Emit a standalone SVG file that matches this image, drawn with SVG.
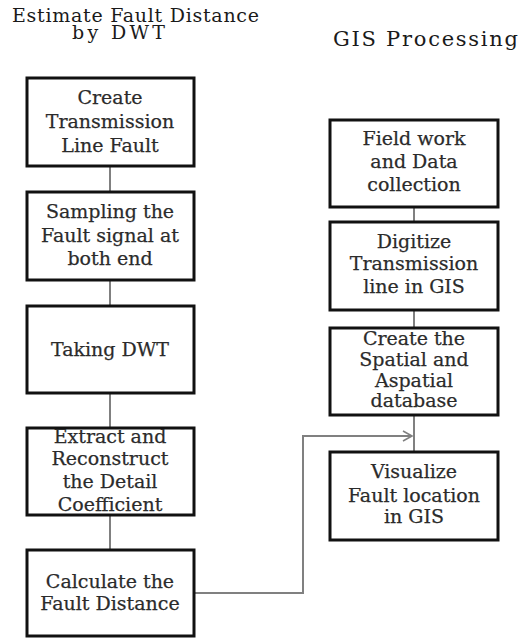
<svg xmlns="http://www.w3.org/2000/svg" width="521" height="638" viewBox="0 0 521 638">
<style>
.title{font-family:"DejaVu Serif","Liberation Serif",serif;fill:#1a1a1a;}
.box rect{fill:#fff;stroke:#111;stroke-width:3;}
.box text{font-family:"DejaVu Serif","Liberation Serif",serif;font-size:19px;fill:#2b2b2b;text-anchor:middle;stroke:#2b2b2b;stroke-width:0.25;}
.conn{fill:none;stroke:#808080;stroke-width:2;}
</style>
<defs>
<marker id="arr" markerWidth="12" markerHeight="12" refX="10" refY="6" orient="auto" markerUnits="userSpaceOnUse">
<path d="M1,1 L10,6 L1,11" fill="none" stroke="#808080" stroke-width="1.6"/>
</marker>
</defs>
<rect width="521" height="638" fill="#fff"/>
<text class="title" x="12" y="22" font-size="19" textLength="247" lengthAdjust="spacing">Estimate Fault Distance</text>
<text class="title" x="72" y="39" font-size="19" textLength="93" lengthAdjust="spacing">by DWT</text>
<text class="title" x="333" y="46" font-size="21" textLength="185" lengthAdjust="spacing">GIS Processing</text>
<g id="connectors">
<line class="conn" x1="110" y1="166" x2="110" y2="191"/>
<line class="conn" x1="110" y1="281" x2="110" y2="305"/>
<line class="conn" x1="110" y1="393" x2="110" y2="427"/>
<line class="conn" x1="110" y1="516" x2="110" y2="549"/>
<line class="conn" x1="414" y1="207" x2="414" y2="221"/>
<line class="conn" x1="414" y1="310" x2="414" y2="327"/>
<line class="conn" x1="414" y1="416" x2="414" y2="451"/>
<polyline class="conn" points="194,593 303,593 303,436 412,436" marker-end="url(#arr)"/>
</g>
<g id="n1" class="box"><rect x="27" y="78" width="167" height="88"/>
<text x="110" y="104">Create</text><text x="110" y="128">Transmission</text><text x="110" y="152">Line Fault</text></g>
<g id="n2" class="box"><rect x="27" y="192" width="167" height="88"/>
<text x="110" y="218">Sampling the</text><text x="110" y="242">Fault signal at</text><text x="110" y="265">both end</text></g>
<g id="n3" class="box"><rect x="27" y="306" width="167" height="87"/>
<text x="110" y="356">Taking DWT</text></g>
<g id="n4" class="box"><rect x="27" y="428" width="167" height="87"/>
<text x="110" y="443">Extract and</text><text x="110" y="465">Reconstruct</text><text x="110" y="488">the Detail</text><text x="110" y="511">Coefficient</text></g>
<g id="n5" class="box"><rect x="27" y="550" width="167" height="86"/>
<text x="110" y="588">Calculate the</text><text x="110" y="610">Fault Distance</text></g>
<g id="n6" class="box"><rect x="330" y="120" width="168" height="87"/>
<text x="414" y="145">Field work</text><text x="414" y="168">and Data</text><text x="414" y="191">collection</text></g>
<g id="n7" class="box"><rect x="330" y="222" width="168" height="88"/>
<text x="414" y="248">Digitize</text><text x="414" y="270">Transmission</text><text x="414" y="293">line in GIS</text></g>
<g id="n8" class="box"><rect x="330" y="328" width="168" height="87"/>
<text x="414" y="345">Create the</text><text x="414" y="366">Spatial and</text><text x="414" y="387">Aspatial</text><text x="414" y="407">database</text></g>
<g id="n9" class="box"><rect x="330" y="452" width="168" height="88"/>
<text x="414" y="478">Visualize</text><text x="414" y="502">Fault location</text><text x="414" y="523">in GIS</text></g>
</svg>
